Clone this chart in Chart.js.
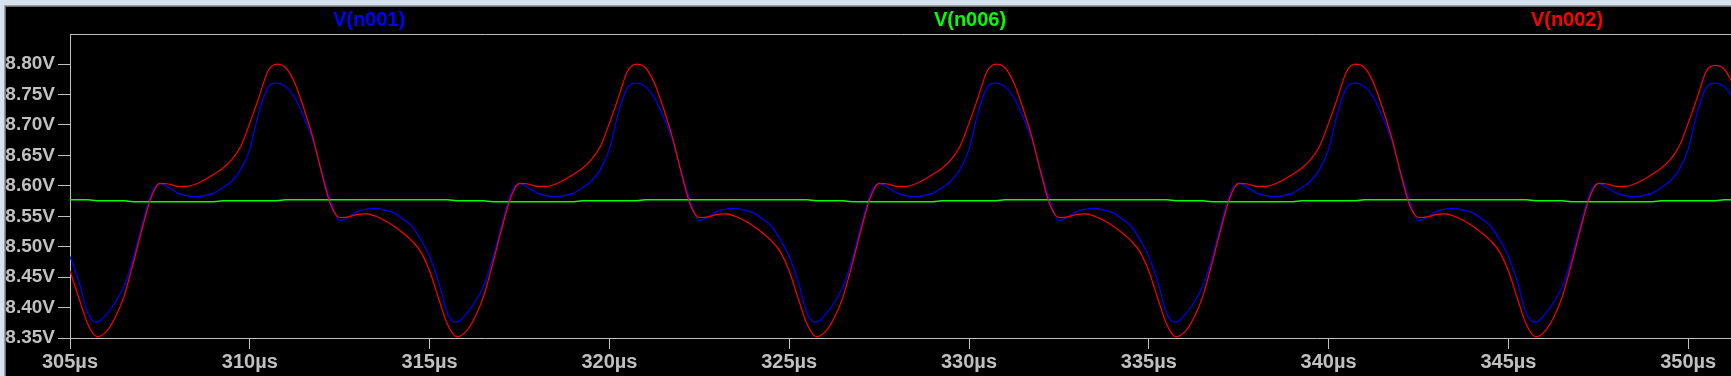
<!DOCTYPE html>
<html lang="en">
<head>
  <meta charset="UTF-8">
  <title>V(n001) / V(n006) / V(n002)</title>
  <script src="https://cdn.jsdelivr.net/npm/chart.js"></script>
  <style>
    html, body { margin: 0; padding: 0; background: #d6e2ee; overflow: hidden; }
    canvas { display: block; }
  </style>
</head>
<body>

<canvas id="scope" width="1731" height="376"></canvas>

<script>
  // trace names, same order as the header
  const traceNames = ['V(n001)', 'V(n006)', 'V(n002)'];
  const traceColors = ['#0000ff', '#00ff00', '#ff0000'];

  // sample times (µs)
  const timeUs = [
    305, 305.25, 305.5, 305.75, 306, 306.25, 306.5, 306.75, 307, 307.25,
    307.5, 307.75, 308, 308.25, 308.5, 308.75, 309, 309.25, 309.5, 309.75,
    310, 310.25, 310.5, 310.75, 311, 311.25, 311.5, 311.75, 312, 312.25,
    312.5, 312.75, 313, 313.25, 313.5, 313.75, 314, 314.25, 314.5, 314.75,
    315, 315.25, 315.5, 315.75, 316, 316.25, 316.5, 316.75, 317, 317.25,
    317.5, 317.75, 318, 318.25, 318.5, 318.75, 319, 319.25, 319.5, 319.75,
    320, 320.25, 320.5, 320.75, 321, 321.25, 321.5, 321.75, 322, 322.25,
    322.5, 322.75, 323, 323.25, 323.5, 323.75, 324, 324.25, 324.5, 324.75,
    325, 325.25, 325.5, 325.75, 326, 326.25, 326.5, 326.75, 327, 327.25,
    327.5, 327.75, 328, 328.25, 328.5, 328.75, 329, 329.25, 329.5, 329.75,
    330, 330.25, 330.5, 330.75, 331, 331.25, 331.5, 331.75, 332, 332.25,
    332.5, 332.75, 333, 333.25, 333.5, 333.75, 334, 334.25, 334.5, 334.75,
    335, 335.25, 335.5, 335.75, 336, 336.25, 336.5, 336.75, 337, 337.25,
    337.5, 337.75, 338, 338.25, 338.5, 338.75, 339, 339.25, 339.5, 339.75,
    340, 340.25, 340.5, 340.75, 341, 341.25, 341.5, 341.75, 342, 342.25,
    342.5, 342.75, 343, 343.25, 343.5, 343.75, 344, 344.25, 344.5, 344.75,
    345, 345.25, 345.5, 345.75, 346, 346.25, 346.5, 346.75, 347, 347.25,
    347.5, 347.75, 348, 348.25, 348.5, 348.75, 349, 349.25, 349.5, 349.75,
    350, 350.25, 350.5, 350.75, 351, 351.25
  ];

  // V(n001), blue
  const vN001 = [
    8.484, 8.442, 8.390, 8.376, 8.388, 8.408, 8.435, 8.479, 8.534, 8.586,
    8.604, 8.597, 8.588, 8.584, 8.582, 8.584, 8.588, 8.597, 8.608, 8.627,
    8.660, 8.720, 8.761, 8.769, 8.763, 8.745, 8.713, 8.676, 8.624, 8.575,
    8.543, 8.549, 8.558, 8.562, 8.563, 8.560, 8.556, 8.546, 8.534, 8.512,
    8.484, 8.442, 8.390, 8.376, 8.388, 8.408, 8.435, 8.479, 8.534, 8.586,
    8.604, 8.597, 8.588, 8.584, 8.582, 8.584, 8.588, 8.597, 8.608, 8.627,
    8.660, 8.720, 8.761, 8.769, 8.763, 8.745, 8.713, 8.676, 8.624, 8.575,
    8.543, 8.549, 8.558, 8.562, 8.563, 8.560, 8.556, 8.546, 8.534, 8.512,
    8.484, 8.442, 8.390, 8.376, 8.388, 8.408, 8.435, 8.479, 8.534, 8.586,
    8.604, 8.597, 8.588, 8.584, 8.582, 8.584, 8.588, 8.597, 8.608, 8.627,
    8.660, 8.720, 8.761, 8.769, 8.763, 8.745, 8.713, 8.676, 8.624, 8.575,
    8.543, 8.549, 8.558, 8.562, 8.563, 8.560, 8.556, 8.546, 8.534, 8.512,
    8.484, 8.442, 8.390, 8.376, 8.388, 8.408, 8.435, 8.479, 8.534, 8.586,
    8.604, 8.597, 8.588, 8.584, 8.582, 8.584, 8.588, 8.597, 8.608, 8.627,
    8.660, 8.720, 8.761, 8.769, 8.763, 8.745, 8.713, 8.676, 8.624, 8.575,
    8.543, 8.549, 8.558, 8.562, 8.563, 8.560, 8.556, 8.546, 8.534, 8.512,
    8.484, 8.442, 8.390, 8.376, 8.388, 8.408, 8.435, 8.479, 8.534, 8.586,
    8.604, 8.597, 8.588, 8.584, 8.582, 8.584, 8.588, 8.597, 8.608, 8.627,
    8.660, 8.720, 8.761, 8.769, 8.763, 8.745
  ];

  // V(n006), green
  const vN006 = [
    8.577, 8.577, 8.577, 8.5755, 8.5755, 8.5755, 8.5755, 8.574, 8.574, 8.574,
    8.574, 8.574, 8.574, 8.574, 8.574, 8.574, 8.574, 8.5755, 8.5755, 8.5755,
    8.5755, 8.5755, 8.5755, 8.5755, 8.577, 8.577, 8.577, 8.577, 8.577, 8.577,
    8.577, 8.577, 8.577, 8.577, 8.577, 8.577, 8.577, 8.577, 8.577, 8.577,
    8.577, 8.577, 8.577, 8.5755, 8.5755, 8.5755, 8.5755, 8.574, 8.574, 8.574,
    8.574, 8.574, 8.574, 8.574, 8.574, 8.574, 8.574, 8.5755, 8.5755, 8.5755,
    8.5755, 8.5755, 8.5755, 8.5755, 8.577, 8.577, 8.577, 8.577, 8.577, 8.577,
    8.577, 8.577, 8.577, 8.577, 8.577, 8.577, 8.577, 8.577, 8.577, 8.577,
    8.577, 8.577, 8.577, 8.5755, 8.5755, 8.5755, 8.5755, 8.574, 8.574, 8.574,
    8.574, 8.574, 8.574, 8.574, 8.574, 8.574, 8.574, 8.5755, 8.5755, 8.5755,
    8.5755, 8.5755, 8.5755, 8.5755, 8.577, 8.577, 8.577, 8.577, 8.577, 8.577,
    8.577, 8.577, 8.577, 8.577, 8.577, 8.577, 8.577, 8.577, 8.577, 8.577,
    8.577, 8.577, 8.577, 8.5755, 8.5755, 8.5755, 8.5755, 8.574, 8.574, 8.574,
    8.574, 8.574, 8.574, 8.574, 8.574, 8.574, 8.574, 8.5755, 8.5755, 8.5755,
    8.5755, 8.5755, 8.5755, 8.5755, 8.577, 8.577, 8.577, 8.577, 8.577, 8.577,
    8.577, 8.577, 8.577, 8.577, 8.577, 8.577, 8.577, 8.577, 8.577, 8.577,
    8.577, 8.577, 8.577, 8.5755, 8.5755, 8.5755, 8.5755, 8.574, 8.574, 8.574,
    8.574, 8.574, 8.574, 8.574, 8.574, 8.574, 8.574, 8.5755, 8.5755, 8.5755,
    8.5755, 8.5755, 8.5755, 8.5755, 8.577, 8.577
  ];

  // V(n002), red
  const vN002 = [
    8.460, 8.415, 8.372, 8.352, 8.360, 8.383, 8.418, 8.471, 8.528, 8.580,
    8.604, 8.603, 8.599, 8.599, 8.603, 8.610, 8.619, 8.629, 8.643, 8.665,
    8.703, 8.745, 8.788, 8.800, 8.794, 8.769, 8.728, 8.680, 8.621, 8.569,
    8.548, 8.549, 8.553, 8.554, 8.550, 8.543, 8.534, 8.523, 8.510, 8.492,
    8.460, 8.415, 8.372, 8.352, 8.360, 8.383, 8.418, 8.471, 8.528, 8.580,
    8.604, 8.603, 8.599, 8.599, 8.603, 8.610, 8.619, 8.629, 8.643, 8.665,
    8.703, 8.745, 8.788, 8.800, 8.794, 8.769, 8.728, 8.680, 8.621, 8.569,
    8.548, 8.549, 8.553, 8.554, 8.550, 8.543, 8.534, 8.523, 8.510, 8.492,
    8.460, 8.415, 8.372, 8.352, 8.360, 8.383, 8.418, 8.471, 8.528, 8.580,
    8.604, 8.603, 8.599, 8.599, 8.603, 8.610, 8.619, 8.629, 8.643, 8.665,
    8.703, 8.745, 8.788, 8.800, 8.794, 8.769, 8.728, 8.680, 8.621, 8.569,
    8.548, 8.549, 8.553, 8.554, 8.550, 8.543, 8.534, 8.523, 8.510, 8.492,
    8.460, 8.415, 8.372, 8.352, 8.360, 8.383, 8.418, 8.471, 8.528, 8.580,
    8.604, 8.603, 8.599, 8.599, 8.603, 8.610, 8.619, 8.629, 8.643, 8.665,
    8.703, 8.745, 8.788, 8.800, 8.794, 8.769, 8.728, 8.680, 8.621, 8.569,
    8.548, 8.549, 8.553, 8.554, 8.550, 8.543, 8.534, 8.523, 8.510, 8.492,
    8.460, 8.415, 8.372, 8.352, 8.360, 8.383, 8.418, 8.471, 8.528, 8.580,
    8.604, 8.603, 8.599, 8.599, 8.603, 8.610, 8.619, 8.629, 8.643, 8.665,
    8.703, 8.745, 8.788, 8.798, 8.792, 8.767
  ];

  const xMin = 305, xMax = 351.19, xStep = 5;
  const yMin = 8.35, yMax = 8.8495, yStep = 0.05;

  const axisGray = '#c0c0c0';
  const fontFamily = '"Liberation Sans", Arial, sans-serif';

  const pts = vals => vals.map((v, i) => ({ x: timeUs[i], y: v }));

  // LTspice-ish window frame + top border + trace names
  const scopeFrame = {
    id: 'scopeFrame',
    beforeDraw(chart) {
      const { ctx, width, height } = chart;
      ctx.save();
      ctx.fillStyle = '#d6e2ee';
      ctx.fillRect(0, 0, width, height);
      ctx.fillStyle = '#a0a0a0';
      ctx.fillRect(4, 5, width, height);
      ctx.fillStyle = '#6a6a6a';
      ctx.fillRect(5, 6, width, height);
      ctx.fillStyle = '#000';
      ctx.fillRect(6, 7, width, height);
      ctx.restore();
    },
    afterDraw(chart) {
      const { ctx, chartArea } = chart;
      ctx.save();
      ctx.strokeStyle = axisGray;
      ctx.lineWidth = 1;
      ctx.beginPath();
      ctx.moveTo(chartArea.left, chartArea.top + 0.5);
      ctx.lineTo(chartArea.right, chartArea.top + 0.5);
      ctx.stroke();

      const legendX = [369, 970, 1567];
      ctx.font = 'bold 20px ' + fontFamily;
      ctx.textAlign = 'center';
      ctx.textBaseline = 'middle';
      traceNames.forEach((name, i) => {
        ctx.fillStyle = traceColors[i];
        ctx.fillText(name, legendX[i], 20);
      });
      ctx.restore();
    }
  };

  new Chart(document.getElementById('scope'), {
    type: 'line',
    data: {
      datasets: [
        { label: traceNames[0], data: pts(vN001), borderColor: traceColors[0], borderWidth: 1.2, order: 3, cubicInterpolationMode: 'monotone' },
        { label: traceNames[1], data: pts(vN006), borderColor: traceColors[1], borderWidth: 1.5, order: 2, tension: 0 },
        { label: traceNames[2], data: pts(vN002), borderColor: traceColors[2], borderWidth: 1.2, order: 1, cubicInterpolationMode: 'monotone' }
      ]
    },
    options: {
      responsive: false,
      animation: false,
      devicePixelRatio: 1,
      elements: { point: { radius: 0 } },
      layout: { padding: { top: 34, left: 0, right: 0, bottom: 0 } },
      plugins: { legend: { display: false }, tooltip: { enabled: false } },
      scales: {
        x: {
          type: 'linear',
          min: xMin, max: xMax,
          border: { color: axisGray, width: 1 },
          grid: { drawOnChartArea: false, color: axisGray, tickLength: 11 },
          ticks: {
            stepSize: xStep, includeBounds: false, color: axisGray,
            font: { family: fontFamily, size: 20, weight: 'bold' }, padding: 1,
            maxRotation: 0, autoSkip: false,
            callback: v => v + 'µs'
          },
          afterFit(scale) { scale.height = 38; }
        },
        y: {
          min: yMin, max: yMax,
          border: { color: axisGray, width: 1 },
          grid: { drawOnChartArea: false, color: axisGray, tickLength: 12 },
          ticks: {
            stepSize: yStep, includeBounds: false, color: axisGray,
            font: { family: fontFamily, size: 19, weight: 'bold' }, padding: 3,
            callback: v => v.toFixed(2) + 'V'
          },
          afterFit(scale) { scale.width = 70; }
        }
      }
    },
    plugins: [scopeFrame]
  });
</script>

</body>
</html>
